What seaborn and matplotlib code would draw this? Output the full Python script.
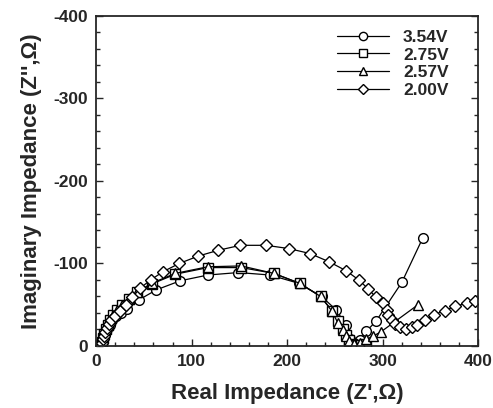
import pandas as pd
import matplotlib.pyplot as plt
import seaborn as sns
from matplotlib.ticker import MultipleLocator

# Datos (Z' real, Z'' imaginaria)
x_354 = [5, 6, 7, 9, 11, 14, 17, 21, 26, 32, 45, 63, 88, 117, 149, 182, 212, 236, 251, 262, 266,
         270, 276, 283, 293, 320, 342]
y_354 = [0, -5, -10, -15, -20, -26, -31, -36, -40, -45, -56, -68, -79, -86, -89, -86, -76, -60, -44, -25, -8,
         -2, -7, -18, -30, -77, -131]

x_275 = [5, 6, 7, 8, 10, 12, 15, 18, 22, 27, 34, 43, 58, 83, 117, 152, 186, 213, 235, 247, 253, 258,
         262, 265, 268, 272, 277, 283]
y_275 = [0, -5, -10, -15, -20, -26, -32, -38, -44, -50, -57, -65, -75, -87, -95, -95, -88, -76, -60, -43, -30, -20,
         -13, -7, -3, -1, -1, -3]

x_257 = [5, 6, 7, 8, 10, 12, 15, 18, 22, 27, 34, 43, 58, 83, 117, 152, 186, 213, 235, 247, 253, 258,
         262, 265, 270, 276, 283, 290, 298, 337]
y_257 = [0, -5, -10, -15, -20, -26, -32, -38, -44, -50, -57, -65, -76, -88, -96, -97, -88, -76, -60, -42, -28, -19,
         -12, -6, -2, -4, -8, -12, -17, -50]

x_200 = [5, 6, 7, 8, 9, 11, 13, 16, 20, 25, 31, 38, 46, 57, 70, 87, 107, 128, 151, 178, 202, 224, 244,
         262, 275, 285, 293, 300, 304, 306, 310, 313, 318, 324, 331, 336, 344, 354, 365, 376, 388, 397]
y_200 = [0, -4, -8, -12, -17, -22, -27, -31, -36, -43, -50, -59, -70, -80, -90, -100, -109, -116, -122, -122, -118,
         -112, -102, -91, -80, -69, -59, -52, -44, -37, -31, -27, -23, -21, -23, -26, -31, -38, -43, -48, -52, -55]

series = [('3.54V', x_354, y_354, 'o'),
          ('2.75V', x_275, y_275, 's'),
          ('2.57V', x_257, y_257, '^'),
          ('2.00V', x_200, y_200, 'D')]

sns.set_style('ticks')
plt.rcParams['font.family'] = ['Liberation Sans', 'DejaVu Sans']
plt.rcParams['axes.unicode_minus'] = False

fig = plt.figure(figsize=(4.93, 4.08), dpi=100)
ax = fig.add_axes([0.195, 0.152, 0.775, 0.809])

for nombre, xs, ys, m in series:
    df = pd.DataFrame({'x': xs, 'y': ys})
    ms = 7 if m != 'D' else 6
    sns.lineplot(data=df, x='x', y='y', sort=False, ax=ax, color='black', lw=0.9,
                 marker=m, markersize=ms, markerfacecolor='white', markeredgecolor='black',
                 markeredgewidth=1.0, label=nombre)

ax.set_xlim(0, 400)
ax.set_ylim(0, -400)
ax.xaxis.set_major_locator(MultipleLocator(100))
ax.xaxis.set_minor_locator(MultipleLocator(20))
ax.yaxis.set_major_locator(MultipleLocator(100))
ax.yaxis.set_minor_locator(MultipleLocator(20))
ax.tick_params(which='both', direction='in', top=False, right=True, width=1)
ax.tick_params(which='major', length=5, labelsize=12.5, pad=6)
ax.tick_params(which='minor', length=3)
for lab in ax.get_xticklabels() + ax.get_yticklabels():
    lab.set_fontweight('bold')
for s in ax.spines.values():
    s.set_linewidth(1.3)

ax.set_xlabel("Real Impedance (Z',Ω)", fontsize=16, fontweight='bold', labelpad=10)
ax.set_ylabel("Imaginary Impedance (Z'',Ω)", fontsize=16, fontweight='bold', labelpad=8)

leg = ax.legend(loc='upper right', bbox_to_anchor=(0.95, 0.99), frameon=False,
                handlelength=3.0, fontsize=12.5, borderaxespad=0.2, labelspacing=0.15,
                handletextpad=0.8, markerscale=0.85)
for t in leg.get_texts():
    t.set_fontweight('bold')

fig.savefig('out.png', dpi=100)
